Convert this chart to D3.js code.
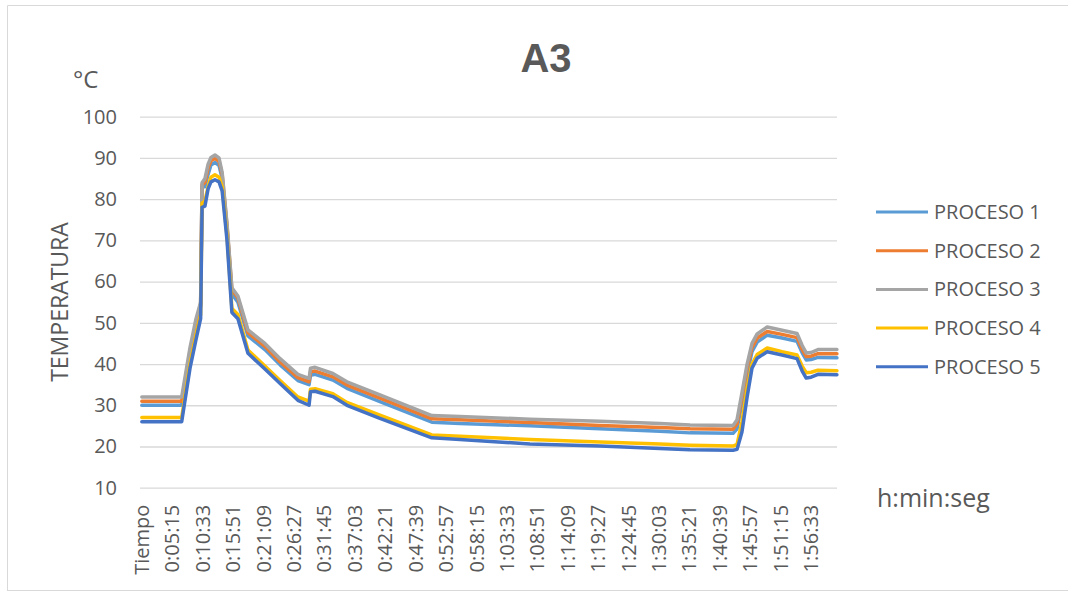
<!DOCTYPE html>
<html>
<head>
<meta charset="utf-8">
<script src="https://cdn.jsdelivr.net/npm/d3@7"></script>
<style>
  body { margin: 0; background: #fff; }
  svg { display: block; }
  text { font-family: "Open Sans", "Noto Sans", sans-serif; fill: #595959; }
</style>
</head>
<body>
<svg id="chart" width="1068" height="592"></svg>
<script>
// Temperature log A3: one reading every 3 s, five processes.
const seriesNames  = ["PROCESO 1", "PROCESO 2", "PROCESO 3", "PROCESO 4", "PROCESO 5"];
const seriesColors = ["#5B9BD5", "#ED7D31", "#A5A5A5", "#FFC000", "#4472C4"];

// elapsed time of each reading, seconds
const timeSec = [0, 417, 504, 567, 615, 630, 660, 693, 723, 765, 807, 840, 891, 942, 1005, 1110, 1287, 1446,
  1632, 1749, 1764, 1812, 1998, 2145, 2490, 3033, 3327, 4059, 4791, 5418, 5733, 6183, 6225, 6276,
  6330, 6381, 6435, 6540, 6696, 6852, 6906, 6948, 6999, 7071, 7269];

const proceso1 = [30, 30, 42, 49, 54, 83, 83, 86, 88.3, 88.9, 88.2, 85, 73, 57, 55, 46.8, 43.5, 39.8,
  36, 35, 37.3, 37.5, 36.1, 34.1, 30.9, 25.9, 25.6, 25, 24.3, 23.7, 23.3, 23.2, 24.3, 30.5,
  37.5, 43, 45.3, 47, 46.3, 45.5, 42.7, 41, 41.1, 41.6, 41.5];
const proceso2 = [31, 31, 43, 50, 54.5, 83.5, 84, 87.5, 89.3, 89.9, 89.2, 86, 73.5, 58, 56, 47.6, 44.3, 40.5,
  36.7, 35.7, 38.1, 38.3, 36.9, 34.9, 31.7, 26.7, 26.5, 25.8, 25.1, 24.6, 24.3, 24.2, 25.5, 32,
  39, 44, 46.3, 47.9, 47.2, 46.4, 43.5, 41.8, 41.9, 42.5, 42.5];
const proceso3 = [32, 32, 44, 51, 55, 84, 85, 88.5, 90.1, 90.7, 90, 86.5, 74, 58.5, 56.5, 48.3, 45, 41.3,
  37.5, 36.5, 39, 39.2, 37.7, 35.7, 32.5, 27.5, 27.3, 26.6, 26.1, 25.6, 25.2, 25.1, 26.5, 33,
  40, 45, 47.3, 49, 48.2, 47.4, 44.5, 42.7, 42.8, 43.5, 43.5];
const proceso4 = [27, 27, 40, 47, 52, 79, 79.5, 83, 85.3, 85.9, 85.3, 83, 71, 53.5, 52, 43.4, 39.5, 36,
  32, 31, 33.9, 34, 32.8, 30.7, 27.6, 22.8, 22.5, 21.7, 21.1, 20.6, 20.3, 20.1, 20.5, 26,
  34, 40, 42.3, 43.9, 43, 42.2, 39.5, 37.9, 38, 38.5, 38.4];
const proceso5 = [26, 26, 39, 46, 51, 78, 78.3, 82.5, 84.2, 84.7, 84.2, 82, 70, 52.5, 51, 42.6, 38.8, 35.3,
  31.2, 30, 33.3, 33.4, 32.1, 30, 26.8, 22.1, 21.7, 20.6, 20.1, 19.5, 19.2, 19.1, 19.3, 23.5,
  32, 39, 41.4, 43, 42.2, 41.3, 38.3, 36.6, 36.8, 37.5, 37.4];

const yTicks  = [10, 20, 30, 40, 50, 60, 70, 80, 90, 100];
const xLabels = ["Tiempo", "0:05:15", "0:10:33", "0:15:51", "0:21:09", "0:26:27", "0:31:45",
  "0:37:03", "0:42:21", "0:47:39", "0:52:57", "0:58:15", "1:03:33", "1:08:51", "1:14:09",
  "1:19:27", "1:24:45", "1:30:03", "1:35:21", "1:40:39", "1:45:57", "1:51:15", "1:56:33"];

const SAMPLE_STEP = 3; // seconds between readings; the header row sits one step before 0:00:00
const toSec = s => s === "Tiempo" ? -SAMPLE_STEP
  : s.split(":").reduce((acc, p) => acc * 60 + (+p), 0);

const svg = d3.select("#chart");
const plot = { left: 140, right: 837, top: 116.7, bottom: 487.7 };

// outer frame
svg.append("path")
  .attr("d", "M7.5,591 V5.5 H1068")
  .attr("fill", "none").attr("stroke", "#D9D9D9").attr("stroke-width", 1);
svg.append("line")
  .attr("x1", 7.5).attr("x2", 1068).attr("y1", 590.5).attr("y2", 590.5)
  .attr("stroke", "#D9D9D9");

const x = d3.scaleLinear().domain([-19, 7270]).range([plot.left, plot.right]);
const y = d3.scaleLinear().domain([10, 100]).range([plot.bottom, plot.top]);

// y axis with gridlines
const yAxis = svg.append("g")
  .attr("transform", `translate(${plot.left},0)`)
  .call(d3.axisLeft(y).tickValues(yTicks).tickSize(-(plot.right - plot.left)).tickPadding(23));
yAxis.select(".domain").remove();
yAxis.selectAll(".tick line").attr("stroke", "#D9D9D9").attr("stroke-width", 1.3);
yAxis.selectAll(".tick text")
  .style("font-size", "20px").attr("fill", "#595959")
  .style("font-family", '"Open Sans", sans-serif');

// x axis (category labels, vertical)
const xAxis = svg.append("g")
  .attr("transform", `translate(0,${plot.bottom})`)
  .call(d3.axisBottom(x).tickValues(xLabels.map(toSec))
    .tickFormat((d, i) => xLabels[i]).tickSize(0));
xAxis.select(".domain").remove();
xAxis.selectAll(".tick text")
  .style("font-size", "20px").attr("fill", "#595959")
  .style("font-family", '"Open Sans", sans-serif')
  .attr("text-anchor", "end")
  .attr("dy", "0.35em")
  .attr("transform", "translate(0,17) rotate(-90)")
  .attr("x", 0).attr("y", 0);

// series lines
const allSeries = [proceso1, proceso2, proceso3, proceso4, proceso5];
const line = d3.line().x(d => x(d[0])).y(d => y(d[1]));
allSeries.forEach((vals, i) => {
  svg.append("path")
    .datum(timeSec.map((t, k) => [t, vals[k]]))
    .attr("d", line)
    .attr("fill", "none")
    .attr("stroke", seriesColors[i])
    .attr("stroke-width", 3.5)
    .attr("stroke-linejoin", "round")
    .attr("stroke-linecap", "round");
});

// title and axis captions
svg.append("text").attr("x", 546).attr("y", 72).attr("text-anchor", "middle")
  .style("font-size", "40px").style("font-weight", "bold")
  .style("font-family", '"Liberation Sans", Arial, sans-serif')
  .text("A3");
svg.append("text").attr("x", 73).attr("y", 88)
  .style("font-size", "24px").text("°C");
svg.append("text")
  .attr("transform", "translate(68,302) rotate(-90)")
  .attr("text-anchor", "middle")
  .style("font-size", "23px").text("TEMPERATURA");
svg.append("text").attr("x", 877).attr("y", 507)
  .style("font-size", "25px").text("h:min:seg");

// legend
const legend = svg.append("g");
seriesNames.forEach((name, i) => {
  const cy = 212 + i * 38.7;
  legend.append("line")
    .attr("x1", 876).attr("x2", 928).attr("y1", cy).attr("y2", cy)
    .attr("stroke", seriesColors[i]).attr("stroke-width", 3);
  legend.append("text")
    .attr("x", 934).attr("y", cy).attr("dy", "0.35em")
    .style("font-size", "20px").text(name);
});
</script>
</body>
</html>
